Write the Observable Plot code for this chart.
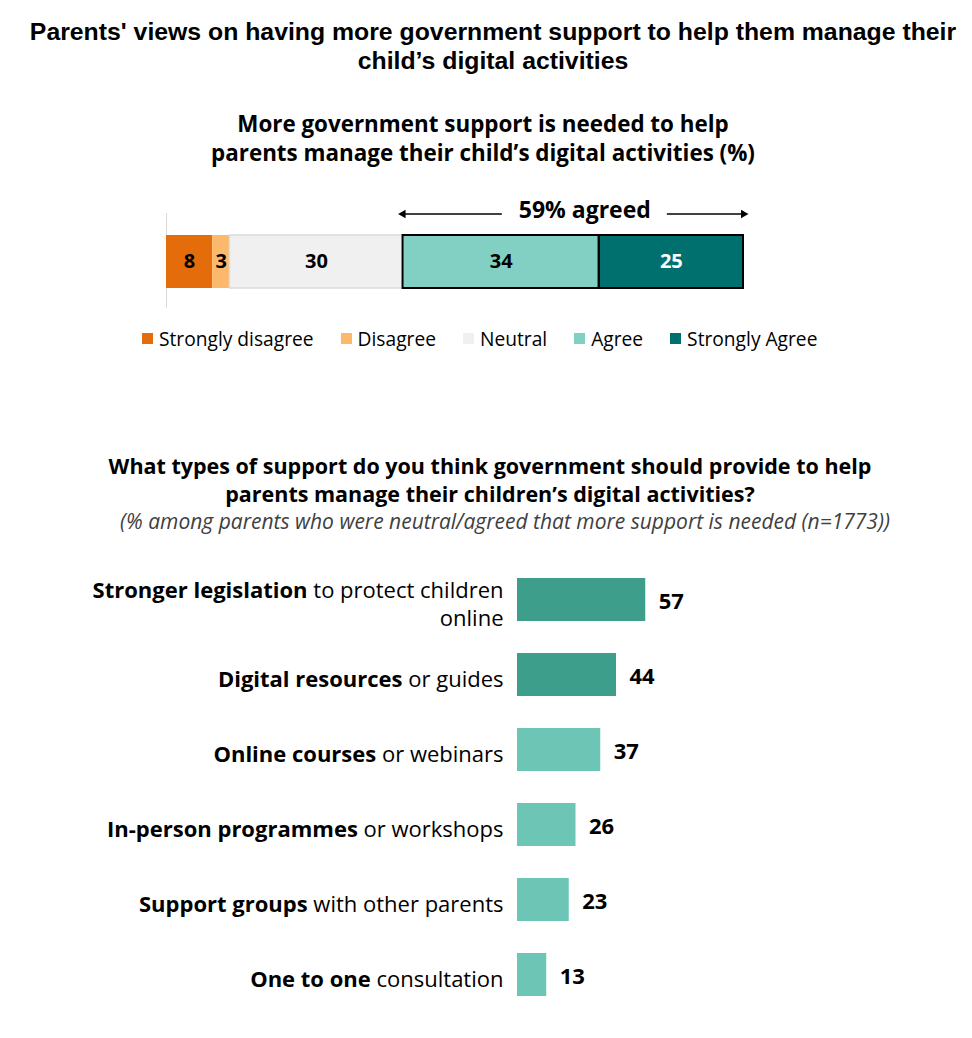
<!DOCTYPE html>
<html>
<head>
<meta charset="utf-8">
<script src="https://cdn.jsdelivr.net/npm/d3@7"></script>
<script src="https://cdn.jsdelivr.net/npm/@observablehq/plot@0.6"></script>
<style>
  html, body { margin: 0; padding: 0; background: #fff; }
  body { position: relative; width: 972px; height: 1038px; overflow: hidden; font-family: "Open Sans", sans-serif; color: #000; }
  .block { position: absolute; width: 972px; text-align: center; white-space: nowrap; }
  #title { top: 17px; left: 7px; font-family: "Liberation Sans", Arial, sans-serif; font-weight: bold; font-size: 24.8px; line-height: 29px; }
  #agree-title { top: 109px; left: -3px; font-weight: bold; font-size: 22.4px; line-height: 29px; }
  #support-title { top: 452px; left: 4px; font-weight: bold; font-size: 21.5px; line-height: 28px; }
  #support-note { top: 508px; left: 19px; font-style: italic; font-size: 21px; line-height: 26px; color: #404040; }
  #agree-chart { position: absolute; top: 190px; left: 0; }
  #legend { position: absolute; top: 322px; left: 142px; }
  #legend .resp-swatch { margin-right: 27px !important; }
  #legend .resp-swatch > svg { margin-right: 6px !important; }
  #support-chart { position: absolute; top: 555px; left: 0; }
</style>
</head>
<body>
<div id="title" class="block">Parents' views on having more government support to help them manage their<br>child’s digital activities</div>
<div id="agree-title" class="block">More government support is needed to help<br>parents manage their child’s digital activities (%)</div>
<div id="agree-chart"></div>
<div id="legend"></div>
<div id="support-title" class="block">What types of support do you think government should provide to help<br>parents manage their children’s digital activities?</div>
<div id="support-note" class="block">(% among parents who were neutral/agreed that more support is needed (n=1773))</div>
<div id="support-chart"></div>
<script>
// Agreement with "more government support is needed" (%)
const responses = ["Strongly disagree", "Disagree", "Neutral", "Agree", "Strongly Agree"];
const responseShares = [8, 3, 30, 34, 25];
const responseColors = ["#e46c0a", "#fdb96b", "#f0f0f0", "#82d0c3", "#00706e"];
const agreeResponses = ["Agree", "Strongly Agree"];

// Types of support parents want (%)
const supportLead = ["Stronger legislation", "Digital resources", "Online courses", "In-person programmes", "Support groups", "One to one"];
const supportRest = ["to protect children\nonline", "or guides", "or webinars", "or workshops", "with other parents", "consultation"];
const supportShares = [57, 44, 37, 26, 23, 13];
const highlightedTop = 2;

const font = "'Open Sans', sans-serif";

// ---- stacked agreement bar ----
const ends = d3.cumsum(responseShares);
const segments = responses.map((response, i) => ({
  response, share: responseShares[i], x1: ends[i] - responseShares[i], x2: ends[i], q: "all"
}));
const agreeSegs = segments.filter(d => agreeResponses.includes(d.response));
const agreed = d3.sum(agreeSegs, d => d.share);
const agreeFrom = d3.min(agreeSegs, d => d.x1);
const agreeTo = d3.max(agreeSegs, d => d.x2);
const noteAt = 72.5, noteGap = 14.3;
const arrows = [
  {from: noteAt - noteGap, to: agreeFrom, dir: -90},
  {from: noteAt + noteGap, to: agreeTo, dir: 90}
];
const mid = d => (d.x1 + d.x2) / 2;

const agreeChart = Plot.plot({
  width: 972, height: 125,
  marginLeft: 166, marginRight: 229, marginTop: 45, marginBottom: 27,
  style: {fontFamily: font, background: "transparent", overflow: "visible"},
  x: {domain: [0, 100], axis: null},
  y: {domain: ["all"], axis: null, padding: 0},
  color: {domain: responses, range: responseColors},
  marks: [
    Plot.ruleX([0], {stroke: "#d9d9d9", strokeWidth: 1, insetTop: -22, insetBottom: -20}),
    Plot.barX(segments, {x1: "x1", x2: "x2", y: "q", fill: "response"}),
    Plot.barX(segments.filter(d => d.response === "Neutral"), {x1: "x1", x2: "x2", y: "q", fill: "none", stroke: "#dcdcdc", strokeWidth: 1.5}),
    Plot.barX(agreeSegs, {x1: "x1", x2: "x2", y: "q", fill: "none", stroke: "#000", strokeWidth: 2}),
    Plot.text(segments.filter(d => d.response !== "Strongly Agree"), {x: mid, y: "q", text: d => String(d.share), fill: "#000", fontWeight: "bold", fontSize: 20}),
    Plot.text(segments.filter(d => d.response === "Strongly Agree"), {x: mid, y: "q", text: d => String(d.share), fill: "#fff", fontWeight: "bold", fontSize: 20}),
    Plot.ruleY(arrows, {y: () => "all", x1: "from", x2: "to", stroke: "#000", strokeWidth: 1.3, dy: -48}),
    Plot.dot(arrows, {x: "to", y: () => "all", symbol: "triangle", rotate: "dir", r: 3.2, fill: "#000", stroke: "none", dy: -48}),
    Plot.text([`${agreed}% agreed`], {x: () => noteAt, y: () => "all", text: d => d, dy: -51, fontWeight: "bold", fontSize: 23, fill: "#000"})
  ]
});
document.getElementById("agree-chart").append(agreeChart);

const legend = Plot.legend({
  color: {domain: responses, range: responseColors},
  legend: "swatches",
  swatchSize: 11,
  className: "resp",
  style: {fontFamily: font, fontSize: "19.2px", color: "#000"}
});
document.getElementById("legend").append(legend);

// ---- support types bar chart ----
const supportRows = supportLead.map((lead, i) => ({
  lead, label: lead + " " + supportRest[i], share: supportShares[i], rank: i
}));

const supportChart = Plot.plot({
  width: 972, height: 464,
  marginLeft: 517, marginRight: 230, marginTop: 5, marginBottom: 5,
  style: {fontFamily: font, background: "transparent", overflow: "visible"},
  x: {domain: [0, 100], axis: null},
  y: {domain: supportRows.map(d => d.label), axis: null, paddingInner: 0.43, paddingOuter: 0.215},
  marks: [
    Plot.barX(supportRows, {x: "share", y: "label", fill: d => d.rank < highlightedTop ? "#3d9e8c" : "#6cc5b5"}),
    Plot.text(supportRows, {x: "share", y: "label", text: d => String(d.share), textAnchor: "start", dx: 13, dy: 2, fontWeight: "bold", fontSize: 22, fill: "#000"}),
    Plot.text(supportRows, {y: "label", frameAnchor: "left", textAnchor: "end", dx: -14, dy: 3, text: "label", fontSize: 22, lineHeight: 1.27, fill: "#000"})
  ]
});

// Set the leading words of each category label in bold
d3.select(supportChart).selectAll("text").each(function() {
  const tspans = this.querySelectorAll("tspan");
  const first = tspans.length ? tspans[0] : this;
  const content = first.textContent;
  const lead = supportLead.find(l => content.startsWith(l));
  if (!lead) return;
  first.textContent = "";
  d3.select(first).append("tspan").attr("font-weight", "bold").text(lead);
  d3.select(first).append("tspan").text(content.slice(lead.length));
});
document.getElementById("support-chart").append(supportChart);
</script>
</body>
</html>
